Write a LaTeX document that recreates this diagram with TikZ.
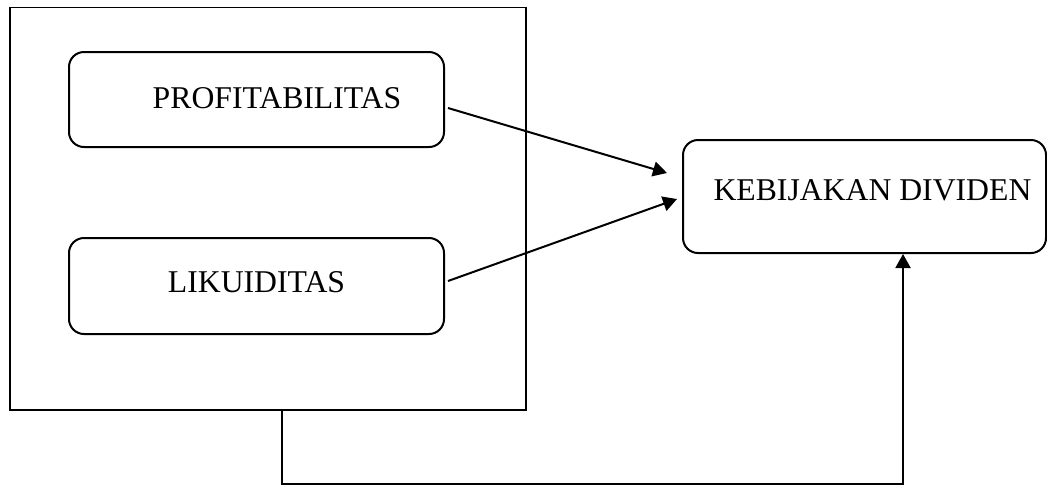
\documentclass[tikz,border=0pt]{standalone}
\usepackage{fontspec}
\setmainfont{Liberation Serif}
\usetikzlibrary{arrows.meta}
\tikzset{
  rbox/.style={draw, line width=1pt, rounded corners=7.5pt, inner sep=0pt, text height=10.5pt,
    font=\fontsize{15.85}{19}\selectfont},
  outerbox/.style={draw, line width=0.9pt, inner sep=0pt},
  conn/.style={line width=1pt},
  arr/.style={conn, -{Triangle[length=7pt,width=7.5pt]}}
}
\begin{document}
\begin{tikzpicture}[x=0.5pt,y=-0.5pt]
\useasboundingbox (0,0) rectangle (1047,484);
\node[outerbox, minimum width=258pt, minimum height=201.25pt] (outer) at (268,208.75) {};
\node[rbox, minimum width=187.5pt, minimum height=47.5pt, text depth=2pt] (prof) at (256.5,99.5) {\hspace*{20.5pt}PROFITABILITAS};
\node[rbox, minimum width=187.5pt, minimum height=48pt, text depth=4pt] (lik) at (256.5,286) {LIKUIDITAS};
\node[rbox, minimum width=181.5pt, minimum height=56.5pt, text depth=7pt] (keb) at (864.5,196.5) {\hspace*{8pt}KEBIJAKAN DIVIDEN};
\draw[arr] ([shift={(3,8.5)}]prof.east) -- ([shift={(-15,-23.5)}]keb.west);
\draw[arr] ([shift={(3,-5)}]lik.east) -- ([shift={(-5,2.5)}]keb.west);
\draw[arr] ([shift={(14,0)}]outer.south) -- ++(0,73) -| ([shift={(38.5,0)}]keb.south);
\end{tikzpicture}
\end{document}
